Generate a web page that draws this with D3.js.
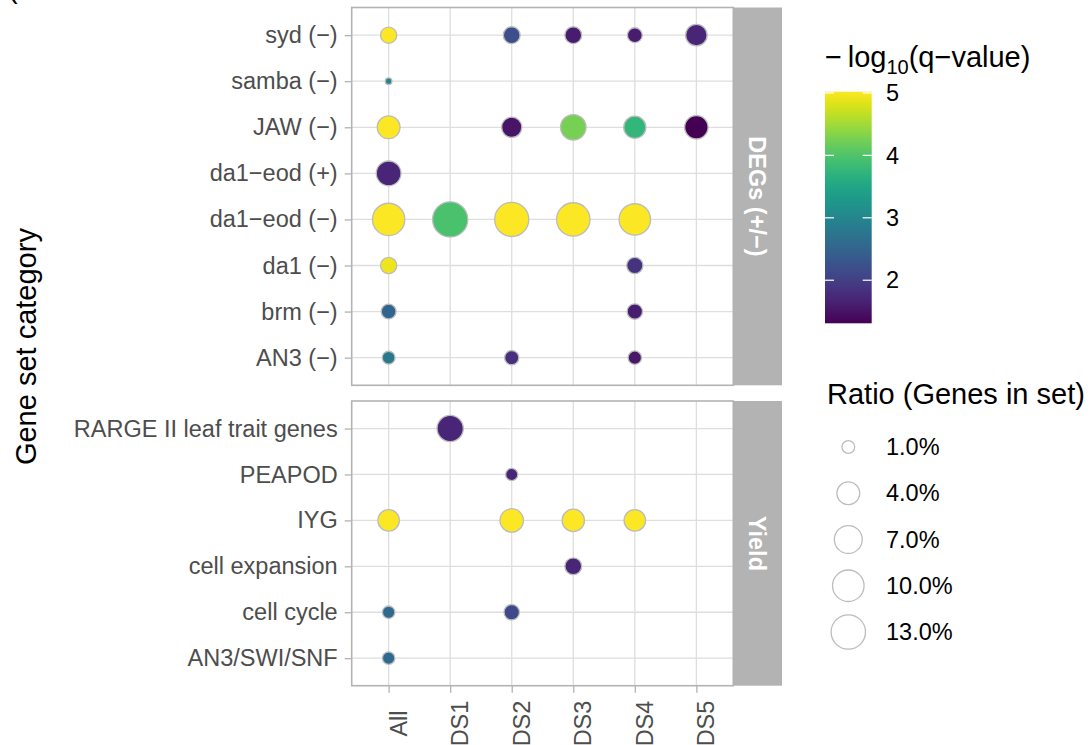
<!DOCTYPE html>
<html>
<head>
<meta charset="utf-8">
<script src="https://cdn.jsdelivr.net/npm/d3@7"></script>
<style>
  body { margin: 0; background: #fff; }
  svg { display: block; font-family: "Liberation Sans", Arial, sans-serif; }
</style>
</head>
<body>
<div id="container"></div>
<script>
/* CONSTANTS AND GLOBALS */
const width = 1091;
const height = 745;

const panelLeft = 351.7, panelRight = 733.3;
const stripRight = 782;
const topPanel = { y0: 7.5, y1: 385.3 };
const botPanel = { y0: 401, y1: 685.7 };

const axisGrey = "#b3b3b3";
const gridGrey = "#dedede";
const textGrey = "#4d4d4d";

/* DATA */
const datasets = ["All", "DS1", "DS2", "DS3", "DS4", "DS5"];
const degSets = ["syd (−)", "samba (−)", "JAW (−)", "da1−eod (+)", "da1−eod (−)", "da1 (−)", "brm (−)", "AN3 (−)"];
const yieldSets = ["RARGE II leaf trait genes", "PEAPOD", "IYG", "cell expansion", "cell cycle", "AN3/SWI/SNF"];
const facets = ["DEGs (+/−)", "Yield"];

// [gene set, dataset, ratio (% genes in set), -log10(q)]
const degPoints = [
  ["syd (−)", "All", 1.7, 5.0],
  ["syd (−)", "DS2", 1.85, 2.2],
  ["syd (−)", "DS3", 1.85, 1.6],
  ["syd (−)", "DS4", 1.37, 1.6],
  ["syd (−)", "DS5", 3.4, 1.7],
  ["samba (−)", "All", 0.3, 3.0],
  ["JAW (−)", "All", 4.0, 5.0],
  ["JAW (−)", "DS2", 2.9, 1.5],
  ["JAW (−)", "DS3", 5.4, 4.25],
  ["JAW (−)", "DS4", 3.7, 3.75],
  ["JAW (−)", "DS5", 4.3, 1.31],
  ["da1−eod (+)", "All", 5.0, 1.7],
  ["da1−eod (−)", "All", 10.8, 5.0],
  ["da1−eod (−)", "DS1", 13.9, 3.95],
  ["da1−eod (−)", "DS2", 12.7, 5.0],
  ["da1−eod (−)", "DS3", 11.9, 5.0],
  ["da1−eod (−)", "DS4", 9.9, 5.0],
  ["da1 (−)", "All", 1.7, 4.92],
  ["da1 (−)", "DS4", 1.7, 1.85],
  ["brm (−)", "All", 1.37, 2.5],
  ["brm (−)", "DS4", 1.5, 1.6],
  ["AN3 (−)", "All", 1.0, 2.8],
  ["AN3 (−)", "DS2", 1.25, 1.83],
  ["AN3 (−)", "DS4", 1.1, 1.53]
];

const yieldPoints = [
  ["RARGE II leaf trait genes", "DS1", 5.9, 1.7],
  ["PEAPOD", "DS2", 0.9, 1.7],
  ["IYG", "All", 3.4, 5.0],
  ["IYG", "DS2", 4.3, 5.0],
  ["IYG", "DS3", 3.8, 5.0],
  ["IYG", "DS4", 3.4, 5.0],
  ["cell expansion", "DS3", 1.85, 1.7],
  ["cell cycle", "All", 0.94, 2.56],
  ["cell cycle", "DS2", 1.5, 2.12],
  ["AN3/SWI/SNF", "All", 0.94, 2.56]
];

const qTicks = [2, 3, 4, 5];
const ratioBreaks = [1, 4, 7, 10, 13];

/* SCALES */
const xScale = d3.scalePoint()
  .domain(datasets)
  .range([panelLeft, panelRight])
  .padding(0.6);

const yTop = d3.scalePoint()
  .domain(degSets)
  .range([topPanel.y0, topPanel.y1])
  .padding(0.6);

const yBot = d3.scalePoint()
  .domain(yieldSets)
  .range([botPanel.y0, botPanel.y1])
  .padding(0.6);

const qDomain = [1.31, 5.02];
const color = d3.scaleSequential(d3.interpolateViridis).domain(qDomain);

// ratio -> radius, fitted to the size legend
const size = d3.scalePow()
  .exponent(0.245)
  .domain([1, 13])
  .range([6.4, 17.2]);

/* HTML ELEMENTS */
const svg = d3.select("#container")
  .append("svg")
  .attr("width", width)
  .attr("height", height);

// cut-off tag in the corner
svg.append("text")
  .attr("x", 8).attr("y", -2)
  .style("font-size", "29px")
  .text("(");

function drawPanel(yScale, cats, points, box, facet) {
  const g = svg.append("g");

  g.append("rect")
    .attr("x", panelLeft).attr("y", box.y0)
    .attr("width", panelRight - panelLeft).attr("height", box.y1 - box.y0)
    .attr("fill", "#fff");

  // grid
  g.selectAll(".vgrid")
    .data(datasets)
    .join("line")
    .attr("x1", d => xScale(d)).attr("x2", d => xScale(d))
    .attr("y1", box.y0).attr("y2", box.y1)
    .attr("stroke", gridGrey).attr("stroke-width", 1.3);
  g.selectAll(".hgrid")
    .data(cats)
    .join("line")
    .attr("x1", panelLeft).attr("x2", panelRight)
    .attr("y1", d => yScale(d)).attr("y2", d => yScale(d))
    .attr("stroke", gridGrey).attr("stroke-width", 1.3);

  // points
  g.selectAll("circle")
    .data(points)
    .join("circle")
    .attr("cx", d => xScale(d[1]))
    .attr("cy", d => yScale(d[0]))
    .attr("r", d => size(d[2]))
    .attr("fill", d => color(d[3]))
    .attr("stroke", "#bcbcbc")
    .attr("stroke-width", 1.3);

  // border
  g.append("rect")
    .attr("x", panelLeft).attr("y", box.y0)
    .attr("width", panelRight - panelLeft).attr("height", box.y1 - box.y0)
    .attr("fill", "none")
    .attr("stroke", axisGrey).attr("stroke-width", 1.6);

  // strip
  g.append("rect")
    .attr("x", panelRight).attr("y", box.y0)
    .attr("width", stripRight - panelRight).attr("height", box.y1 - box.y0)
    .attr("fill", axisGrey);
  g.append("text")
    .attr("transform", `translate(${(panelRight + stripRight) / 2},${(box.y0 + box.y1) / 2}) rotate(90)`)
    .attr("text-anchor", "middle")
    .attr("dy", "0.35em")
    .attr("fill", "#fff")
    .style("font-size", "23.5px")
    .style("font-weight", "bold")
    .text(facet);

  // y axis
  const yAxis = d3.axisLeft(yScale).tickSize(7).tickPadding(7);
  const ya = g.append("g")
    .attr("transform", `translate(${panelLeft},0)`)
    .call(yAxis);
  ya.select(".domain").remove();
  ya.selectAll("line").attr("stroke", axisGrey).attr("stroke-width", 1.3);
  ya.selectAll("text")
    .attr("fill", textGrey)
    .style("font-size", "23.5px")
    .style("font-family", "'Liberation Sans', Arial, sans-serif");
}

drawPanel(yTop, degSets, degPoints, topPanel, facets[0]);
drawPanel(yBot, yieldSets, yieldPoints, botPanel, facets[1]);

// x axis
const xAxis = d3.axisBottom(xScale).tickSize(7);
const xa = svg.append("g")
  .attr("transform", `translate(0,${botPanel.y1})`)
  .call(xAxis);
xa.select(".domain").remove();
xa.selectAll("line").attr("stroke", axisGrey).attr("stroke-width", 1.3);
xa.selectAll("text")
  .attr("transform", "rotate(-90)")
  .attr("x", -37.8)
  .attr("y", 17.5)
  .attr("dy", 0)
  .attr("text-anchor", "middle")
  .attr("fill", textGrey)
  .style("font-size", "23.5px")
  .style("font-family", "'Liberation Sans', Arial, sans-serif");

// y axis title
svg.append("text")
  .attr("transform", `translate(36,${(topPanel.y0 + botPanel.y1) / 2}) rotate(-90)`)
  .attr("text-anchor", "middle")
  .style("font-size", "29px")
  .text("Gene set category");

/* COLOUR LEGEND */
const barX = 825, barW = 46.7;
const barScale = d3.scaleLinear().domain(qDomain).range([323.3, 91.7]);

const title1 = svg.append("text")
  .attr("x", barX).attr("y", 67)
  .style("font-size", "29px");
title1.append("tspan").text("\u2212\u2009log");
title1.append("tspan").attr("dy", 7).style("font-size", "20px").text("10");
title1.append("tspan").attr("dy", -7).text("(q\u2212value)");

const grad = svg.append("defs").append("linearGradient")
  .attr("id", "viridis")
  .attr("x1", 0).attr("y1", 1).attr("x2", 0).attr("y2", 0);
grad.selectAll("stop")
  .data(d3.range(0, 1.0001, 0.05))
  .join("stop")
  .attr("offset", d => d)
  .attr("stop-color", d => color(qDomain[0] + d * (qDomain[1] - qDomain[0])));

svg.append("rect")
  .attr("x", barX).attr("y", barScale(qDomain[1]))
  .attr("width", barW).attr("height", barScale(qDomain[0]) - barScale(qDomain[1]))
  .attr("fill", "url(#viridis)");

const cb = svg.append("g");
cb.selectAll(".tl")
  .data(qTicks)
  .join("line")
  .attr("x1", barX).attr("x2", barX + 9)
  .attr("y1", d => barScale(d)).attr("y2", d => barScale(d))
  .attr("stroke", "#fff").attr("stroke-width", 1.2);
cb.selectAll(".tr")
  .data(qTicks)
  .join("line")
  .attr("x1", barX + barW - 9).attr("x2", barX + barW)
  .attr("y1", d => barScale(d)).attr("y2", d => barScale(d))
  .attr("stroke", "#fff").attr("stroke-width", 1.2);
cb.selectAll("text")
  .data(qTicks)
  .join("text")
  .attr("x", 886)
  .attr("y", d => barScale(d))
  .attr("dy", "0.35em")
  .style("font-size", "23.5px")
  .text(d => d);

/* SIZE LEGEND */
svg.append("text")
  .attr("x", 827).attr("y", 404)
  .style("font-size", "29px")
  .text("Ratio (Genes in set)");

const keyY = d3.scalePoint().domain(ratioBreaks).range([447, 632]);
const sl = svg.append("g");
sl.selectAll("circle")
  .data(ratioBreaks)
  .join("circle")
  .attr("cx", 848.3)
  .attr("cy", d => keyY(d))
  .attr("r", d => size(d))
  .attr("fill", "none")
  .attr("stroke", "#bcbcbc")
  .attr("stroke-width", 1.3);
sl.selectAll("text")
  .data(ratioBreaks)
  .join("text")
  .attr("x", 886)
  .attr("y", d => keyY(d))
  .attr("dy", "0.35em")
  .style("font-size", "23.5px")
  .text(d => d3.format(".1f")(d) + "%");
</script>
</body>
</html>
